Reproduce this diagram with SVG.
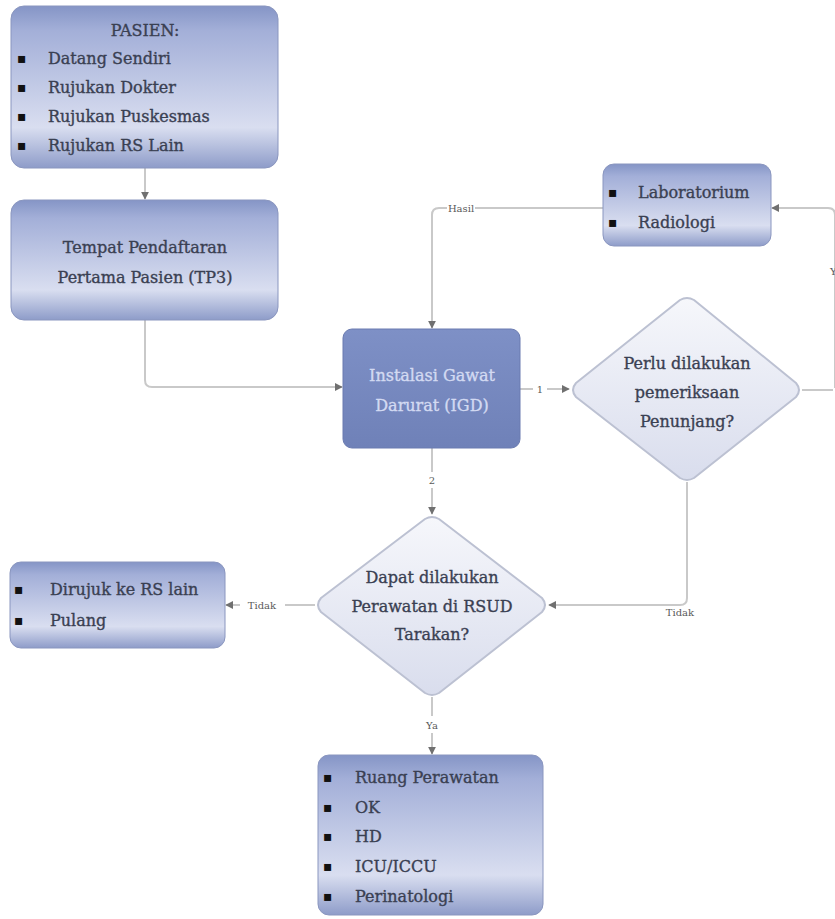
<svg xmlns="http://www.w3.org/2000/svg" width="835" height="919" viewBox="0 0 835 919">
<defs>
<linearGradient id="gBox" x1="0" y1="0" x2="0" y2="1">
<stop offset="0" stop-color="#8595c6"/>
<stop offset="0.15" stop-color="#a3afd8"/>
<stop offset="0.75" stop-color="#d9def0"/>
<stop offset="1" stop-color="#8e9cc9"/>
</linearGradient>
<linearGradient id="gIgd" x1="0" y1="0" x2="0" y2="1">
<stop offset="0" stop-color="#7e90c6"/>
<stop offset="1" stop-color="#6f81b8"/>
</linearGradient>
<linearGradient id="gDia" x1="0" y1="0" x2="0" y2="1">
<stop offset="0" stop-color="#f6f7fb"/>
<stop offset="1" stop-color="#d9dded"/>
</linearGradient>
<marker id="arr" viewBox="0 0 10 10" refX="9" refY="5" markerWidth="4" markerHeight="4" orient="auto">
<path d="M0,0 L10,5 L0,10 z" fill="#707070"/>
</marker>
</defs>
<style>
.box{fill:url(#gBox);stroke:#8a96bf;stroke-width:1}
.dia{fill:url(#gDia);stroke:#bcc1d2;stroke-width:2;stroke-linejoin:round}
.t{font-family:"DejaVu Serif","Liberation Serif",serif;font-size:16px;fill:#3a4052;stroke:#3a4052;stroke-width:0.35}
.c{text-anchor:middle}
.w{fill:#d3daf2;stroke:#d3daf2}
.b{font-family:"DejaVu Sans",sans-serif;font-size:14px;fill:#111}
.con{fill:none;stroke:#c9c9c9;stroke-width:2;stroke-linejoin:round}
.lbl{font-family:"DejaVu Serif","Liberation Serif",serif;font-size:10px;fill:#5a5a5a}
</style>
<rect width="835" height="919" fill="#ffffff"/>

<g id="connectors">
<path class="con" d="M145,168 V199" marker-end="url(#arr)"/>
<path class="con" d="M145,320 V380 Q145,387 152,387 H342" marker-end="url(#arr)"/>
<path class="con" d="M603,208 H475 M447,208 H439 Q432,208 432,215 V328" marker-end="url(#arr)"/>
<path class="con" d="M520,389 H533 M547,389 H569" marker-end="url(#arr)"/>
<path class="con" d="M802,390 H833 M835,388 V215 Q835,208 828,208 H772" marker-end="url(#arr)"/>
<path class="con" d="M687,482 V598 Q687,605 680,605 H549" marker-end="url(#arr)"/>
<path class="con" d="M432,448 V472 M432,488 V514" marker-end="url(#arr)"/>
<path class="con" d="M315,605 H285 M240,605 H226" marker-end="url(#arr)"/>
<path class="con" d="M432,697 V716 M432,733 V754" marker-end="url(#arr)"/>
<text class="lbl" x="461" y="212" text-anchor="middle">Hasil</text>
<text class="lbl" x="540" y="393" text-anchor="middle">1</text>
<text class="lbl" x="432" y="484" text-anchor="middle">2</text>
<text class="lbl" x="830" y="275">Y</text>
<text class="lbl" x="680" y="616" text-anchor="middle">Tidak</text>
<text class="lbl" x="262" y="609" text-anchor="middle">Tidak</text>
<text class="lbl" x="432" y="729" text-anchor="middle">Ya</text>
</g>

<g id="pasien">
<rect class="box" x="11" y="6" width="267" height="162" rx="13"/>
<text class="t c" x="145" y="36">PASIEN:</text>
<text class="b" x="17" y="63">▪</text><text class="t" x="48" y="64">Datang Sendiri</text>
<text class="b" x="17" y="92">▪</text><text class="t" x="48" y="93">Rujukan Dokter</text>
<text class="b" x="17" y="121">▪</text><text class="t" x="48" y="122">Rujukan Puskesmas</text>
<text class="b" x="17" y="150">▪</text><text class="t" x="48" y="151">Rujukan RS Lain</text>
</g>

<g id="tp3">
<rect class="box" x="11" y="200" width="267" height="120" rx="13"/>
<text class="t c" x="145" y="253">Tempat Pendaftaran</text>
<text class="t c" x="145" y="283">Pertama Pasien (TP3)</text>
</g>

<g id="lab">
<rect class="box" x="603" y="164" width="168" height="82" rx="11"/>
<text class="b" x="608" y="197">▪</text><text class="t" x="638" y="198">Laboratorium</text>
<text class="b" x="608" y="227">▪</text><text class="t" x="638" y="228">Radiologi</text>
</g>

<g id="igd">
<rect x="343" y="329" width="177" height="119" rx="9" fill="url(#gIgd)" stroke="#6a7bb0" stroke-width="1"/>
<text class="t c w" x="432" y="381">Instalasi Gawat</text>
<text class="t c w" x="432" y="411">Darurat (IGD)</text>
</g>

<g id="penunjang">
<path class="dia" d="M680,300 Q687,296 694,300 L796,383 Q802,390 796,397 L694,478 Q687,482 680,478 L576,397 Q570,390 576,383 Z"/>
<text class="t c" x="687" y="369">Perlu dilakukan</text>
<text class="t c" x="687" y="398">pemeriksaan</text>
<text class="t c" x="687" y="427">Penunjang?</text>
</g>

<g id="rawat">
<path class="dia" d="M425,519 Q432,515 439,519 L542,598 Q548,605 542,612 L439,693 Q432,697 425,693 L321,612 Q315,605 321,598 Z"/>
<text class="t c" x="432" y="583">Dapat dilakukan</text>
<text class="t c" x="432" y="612">Perawatan di RSUD</text>
<text class="t c" x="432" y="640">Tarakan?</text>
</g>

<g id="rujuk">
<rect class="box" x="10" y="562" width="215" height="86" rx="11"/>
<text class="b" x="14" y="594">▪</text><text class="t" x="50" y="595">Dirujuk ke RS lain</text>
<text class="b" x="14" y="625">▪</text><text class="t" x="50" y="626">Pulang</text>
</g>

<g id="ruang">
<rect class="box" x="318" y="755" width="225" height="160" rx="11"/>
<text class="b" x="323" y="782">▪</text><text class="t" x="355" y="783">Ruang Perawatan</text>
<text class="b" x="323" y="812">▪</text><text class="t" x="355" y="813">OK</text>
<text class="b" x="323" y="841">▪</text><text class="t" x="355" y="842">HD</text>
<text class="b" x="323" y="871">▪</text><text class="t" x="355" y="872">ICU/ICCU</text>
<text class="b" x="323" y="901">▪</text><text class="t" x="355" y="902">Perinatologi</text>
</g>
</svg>
